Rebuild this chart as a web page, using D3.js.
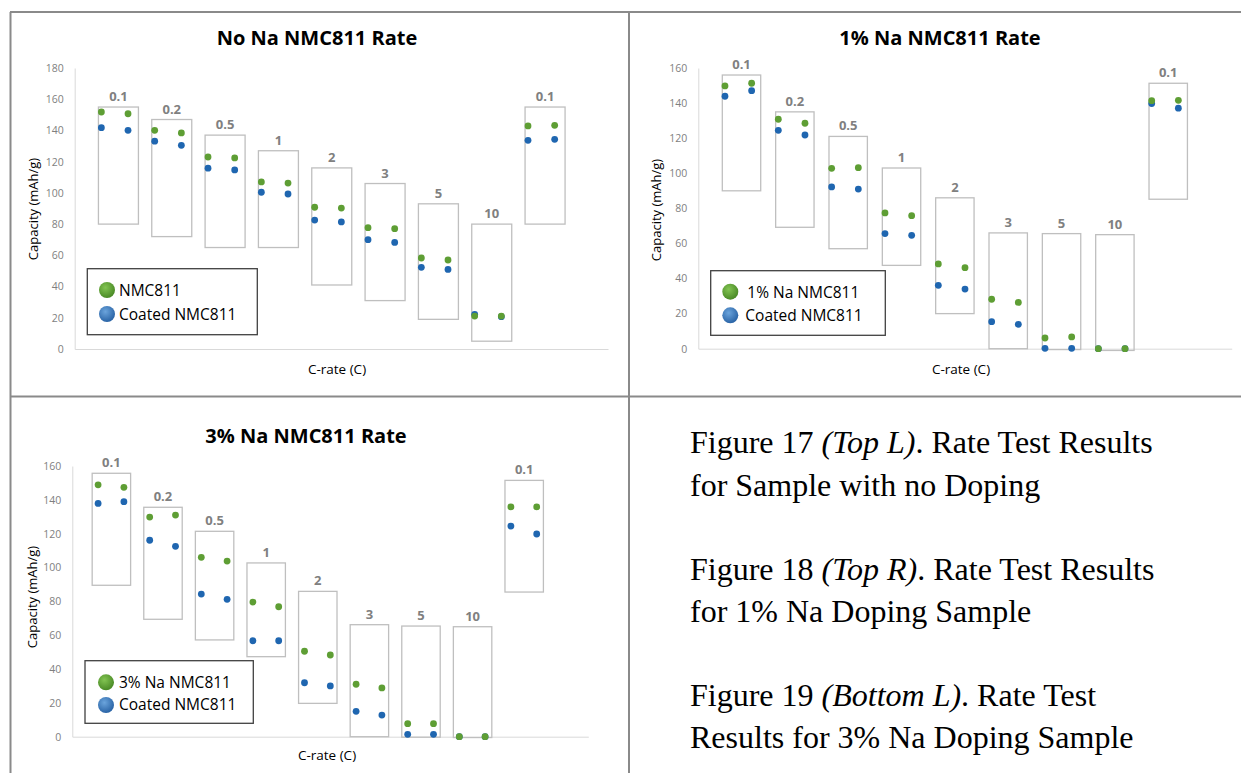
<!DOCTYPE html>
<html>
<head>
<meta charset="utf-8">
<script src="https://cdn.jsdelivr.net/npm/d3@7"></script>
<style>
  body { margin: 0; background: #fff; }
  text { font-family: "Open Sans", sans-serif; }
</style>
</head>
<body>
<svg id="fig" width="1241" height="773"></svg>
<script>
// cycle number on x, C-rate step labels over each box
var cycles = [1, 2, 3, 4, 5, 6, 7, 8, 9, 10, 11, 12, 13, 14, 15, 16, 17, 18];
var rates = ["0.1", "0.2", "0.5", "1", "2", "3", "5", "10", "0.1"];

// No Na
var noNaNmc = [151.8, 150.7, 140.1, 138.4, 123.0, 122.4, 107.0, 106.3, 90.8, 90.3, 77.7, 77.1, 58.3, 57.0, 21.1, 21.1, 142.9, 143.3];
var noNaCoated = [141.8, 140.1, 133.1, 130.5, 115.8, 114.7, 100.4, 99.3, 82.6, 81.4, 70.0, 68.3, 52.3, 51.0, 22.2, 20.7, 133.7, 134.3];
var noNaBoxTop = [155, 147, 137, 127, 116, 106, 93, 80, 155];
var noNaBoxBottom = [80, 72, 65, 65, 41, 31, 19, 5, 80];

// 1% Na
var na1Nmc = [149.8, 151.3, 130.8, 128.5, 102.8, 103.2, 77.4, 75.8, 48.3, 46.2, 28.2, 26.4, 6.1, 6.7, 0, 0, 141.4, 141.6];
var na1Coated = [143.9, 147.1, 124.5, 121.8, 92.2, 91.0, 65.6, 64.6, 36.1, 34.0, 15.4, 13.9, 0.2, 0.2, 0, 0, 139.7, 137.1];
var na1BoxTop = [156, 135, 121, 103, 86, 66, 65.6, 65, 151.3];
var na1BoxBottom = [90, 69.2, 57, 47.5, 20, 0, -0.5, -1, 85.2];

// 3% Na
var na3Nmc = [148.9, 147.4, 129.8, 131.0, 106.0, 103.8, 79.6, 76.8, 50.5, 48.3, 31.0, 28.8, 7.7, 7.7, 0, 0, 135.8, 135.8];
var na3Coated = [137.9, 138.9, 116.1, 112.5, 84.3, 81.2, 56.7, 56.7, 31.9, 30.0, 15.0, 12.8, 1.4, 1.4, 0, 0, 124.5, 119.8];
var na3BoxTop = [155.7, 135.6, 121.4, 102.7, 85.9, 66.2, 65.4, 65, 151.5];
var na3BoxBottom = [89.5, 69.4, 57.2, 47.3, 19.7, 0, -0.3, -0.5, 85.5];

var captionLines = [
  [["Figure 17 ", false], ["(Top L)", true], [". Rate Test Results", false]],
  [["for Sample with no Doping", false]],
  [["Figure 18 ", false], ["(Top R)", true], [". Rate Test Results", false]],
  [["for 1% Na Doping Sample", false]],
  [["Figure 19 ", false], ["(Bottom L)", true], [". Rate Test", false]],
  [["Results for 3% Na Doping Sample", false]]
];

var green = "#5e9e34", blue = "#1f66b0";

var svg = d3.select("#fig");

var defs = svg.append("defs");
function grad(id, c0, c1) {
  var g = defs.append("radialGradient").attr("id", id)
    .attr("cx", "40%").attr("cy", "35%").attr("r", "65%");
  g.append("stop").attr("offset", "0%").attr("stop-color", c0);
  g.append("stop").attr("offset", "100%").attr("stop-color", c1);
}
grad("gGreen", "#82c452", "#4a8a26");
grad("gBlue", "#6ba4dc", "#2a64a6");

// table lines
var grid = svg.append("g").attr("stroke", "#8a8a8a").attr("stroke-width", 2);
grid.append("line").attr("x1", 10).attr("x2", 1241).attr("y1", 12).attr("y2", 12);
grid.append("line").attr("x1", 10).attr("x2", 1241).attr("y1", 396.5).attr("y2", 396.5);
grid.append("line").attr("x1", 10.5).attr("x2", 10.5).attr("y1", 12).attr("y2", 773);
grid.append("line").attr("x1", 629).attr("x2", 629).attr("y1", 12).attr("y2", 773);

function drawChart(c) {
  var x = d3.scaleLinear().domain([0, 20]).range(c.xr);
  var y = d3.scaleLinear().domain([0, c.ymax]).range(c.yr);
  var g = svg.append("g");

  // title
  g.append("text").attr("x", c.titleX).attr("y", c.titleY)
    .attr("text-anchor", "middle").attr("font-size", 20).attr("font-weight", "bold")
    .attr("fill", "#000").text(c.title);

  // y axis
  var ya = g.append("g").attr("transform", "translate(" + c.xr[0] + ",0)")
    .call(d3.axisLeft(y).tickValues(d3.range(0, c.ymax + 1, 20)).tickSize(0).tickPadding(11));
  ya.select(".domain").attr("stroke", "#d9d9d9");
  ya.selectAll("text").attr("font-size", 10.5).attr("fill", "#7f7f7f")
    .attr("font-family", "Open Sans, sans-serif");

  // x axis line only
  var xa = g.append("g").attr("transform", "translate(0," + c.yr[0] + ")")
    .call(d3.axisBottom(x).tickValues([]).tickSizeOuter(0));
  xa.select(".domain").attr("stroke", "#d9d9d9");

  // rate boxes
  var boxes = g.append("g").selectAll("g").data(rates).enter().append("g");
  boxes.append("rect")
    .attr("x", function(d, i) { return x(2 * i + 1 - c.padL); })
    .attr("width", function(d, i) { return x(2 * i + 2 + c.padR) - x(2 * i + 1 - c.padL); })
    .attr("y", function(d, i) { return y(c.boxTop[i]); })
    .attr("height", function(d, i) { return y(c.boxBottom[i]) - y(c.boxTop[i]); })
    .attr("fill", "none").attr("stroke", "#bfbfbf").attr("stroke-width", 1.3);
  boxes.append("text")
    .attr("x", function(d, i) { return (x(2 * i + 1 - c.padL) + x(2 * i + 2 + c.padR)) / 2; })
    .attr("y", function(d, i) { return y(c.boxTop[i]) - 6; })
    .attr("text-anchor", "middle").attr("font-size", 13).attr("font-weight", "bold")
    .attr("fill", "#808080").text(function(d) { return d; });

  // points: coated first, doped on top
  g.append("g").selectAll("circle").data(c.coated).enter().append("circle")
    .attr("cx", function(d, i) { return x(cycles[i]); })
    .attr("cy", function(d) { return y(d); })
    .attr("r", 3.4).attr("fill", blue);
  g.append("g").selectAll("circle").data(c.nmc).enter().append("circle")
    .attr("cx", function(d, i) { return x(cycles[i]); })
    .attr("cy", function(d) { return y(d); })
    .attr("r", 3.4).attr("fill", green);

  // axis titles
  g.append("text").attr("transform", "translate(" + c.yTitle[0] + "," + c.yTitle[1] + ") rotate(-90)")
    .attr("text-anchor", "middle").attr("font-size", 13).attr("fill", "#000")
    .text("Capacity (mAh/g)");
  g.append("text").attr("x", c.xTitle[0]).attr("y", c.xTitle[1])
    .attr("text-anchor", "middle").attr("font-size", 13.5).attr("fill", "#000")
    .text("C-rate (C)");

  // legend
  var L = c.legend;
  g.append("rect").attr("x", L.x).attr("y", L.y).attr("width", L.w).attr("height", L.h)
    .attr("fill", "#fff").attr("stroke", "#404040").attr("stroke-width", 1.3);
  var items = [[c.names[0], "url(#gGreen)"], [c.names[1], "url(#gBlue)"]];
  items.forEach(function(it, i) {
    g.append("circle").attr("cx", L.mx).attr("cy", L.my[i]).attr("r", 8).attr("fill", it[1]);
    g.append("text").attr("x", L.tx[i]).attr("y", L.ty[i]).attr("font-size", 15.5)
      .attr("fill", "#000").text(it[0]);
  });
}

drawChart({
  title: "No Na NMC811 Rate", titleX: 317, titleY: 45,
  xr: [74.7, 608], yr: [349, 68], ymax: 180,
  padL: 0.11, padR: 0.39,
  nmc: noNaNmc, coated: noNaCoated, boxTop: noNaBoxTop, boxBottom: noNaBoxBottom,
  yTitle: [38, 209], xTitle: [337, 374],
  names: ["NMC811", "Coated NMC811"],
  legend: { x: 87.3, y: 268.7, w: 170, h: 66, mx: 107, my: [290, 314], tx: [119, 119], ty: [296, 319.5] }
});

drawChart({
  title: "1% Na NMC811 Rate", titleX: 940, titleY: 45,
  xr: [698.3, 1231.7], yr: [348.7, 68], ymax: 160,
  padL: 0.1, padR: 0.34,
  nmc: na1Nmc, coated: na1Coated, boxTop: na1BoxTop, boxBottom: na1BoxBottom,
  yTitle: [661, 210], xTitle: [961, 374],
  names: ["1% Na NMC811", "Coated NMC811"],
  legend: { x: 710.7, y: 270.7, w: 174.6, h: 64.6, mx: 730.3, my: [291.7, 315.3], tx: [747.3, 745.3], ty: [298, 321] }
});

drawChart({
  title: "3% Na NMC811 Rate", titleX: 306, titleY: 443,
  xr: [72.3, 588.3], yr: [736.7, 466], ymax: 160,
  padL: 0.23, padR: 0.26,
  nmc: na3Nmc, coated: na3Coated, boxTop: na3BoxTop, boxBottom: na3BoxBottom,
  yTitle: [37, 597], xTitle: [327, 760],
  names: ["3% Na NMC811", "Coated NMC811"],
  legend: { x: 85, y: 660.7, w: 168.3, h: 62.6, mx: 106, my: [682.3, 705], tx: [119, 119], ty: [688, 710] }
});

// caption
var cap = svg.append("g");
var capY = [453, 496, 580, 622, 706, 748];
captionLines.forEach(function(line, i) {
  var t = cap.append("text").attr("x", 690).attr("y", capY[i])
    .attr("font-family", "Liberation Serif, serif").attr("font-size", 32).attr("fill", "#000");
  line.forEach(function(part) {
    t.append("tspan").attr("font-style", part[1] ? "italic" : "normal")
      .attr("font-family", "Liberation Serif, serif").text(part[0]);
  });
});
</script>
</body>
</html>
